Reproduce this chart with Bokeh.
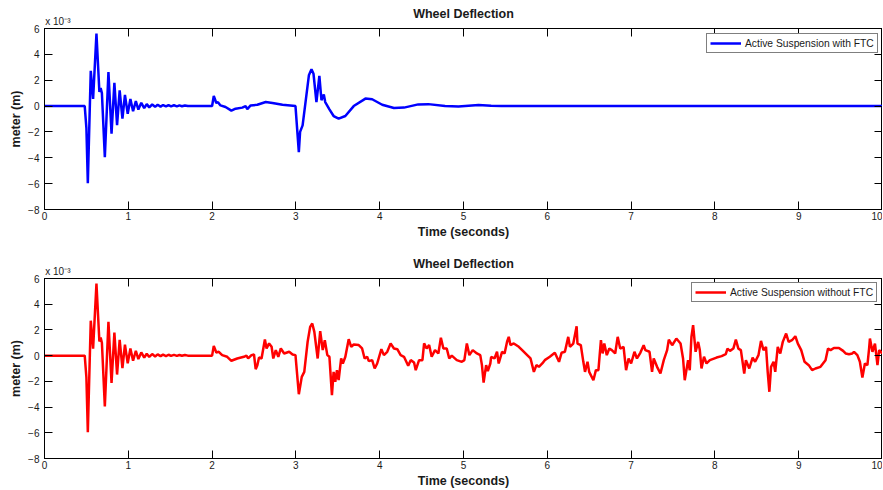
from bokeh.plotting import figure
from bokeh.models import FixedTicker, LinearAxis, Legend, LegendItem, Range1d
from bokeh.layouts import column
from bokeh.embed import file_html
from bokeh.resources import INLINE

# ---------------- data (values in units of 1e-3 m) ----------------
x_ticks = [0, 1, 2, 3, 4, 5, 6, 7, 8, 9, 10]
y_ticks = [-8, -6, -4, -2, 0, 2, 4, 6]
exponent_text = "x 10\u207b\u00b3"

# initial transient (0 - 2 s), common to both responses
t_initial = [0.0, 0.48, 0.50, 0.517, 0.552, 0.58, 0.62, 0.655, 0.67, 0.685, 0.72,
             0.763, 0.80, 0.834, 0.866, 0.897, 0.93, 0.96, 0.993, 1.025, 1.057,
             1.09, 1.12, 1.155, 1.19, 1.22, 1.25, 1.285, 1.32, 1.35, 1.385, 1.415,
             1.45, 1.48, 1.51, 1.545, 1.58, 1.61, 1.64, 1.675, 1.71]
v_initial = [0.0, 0.0, -1.7, -5.96, 2.72, 0.55, 5.6, 1.1, 1.4, 1.0, -3.95,
             2.64, -2.13, 1.79, -1.47, 1.22, -0.97, 0.86, -0.6, 0.55, -0.4,
             0.38, -0.27, 0.25, -0.16, 0.15, -0.1, 0.12, -0.06, 0.1, -0.04, 0.08,
             -0.03, 0.07, -0.02, 0.06, -0.02, 0.05, -0.01, 0.05, 0.0]

# with FTC (2 - 10 s)
t_ftc = [2.0, 2.02, 2.05, 2.07, 2.1, 2.16, 2.23, 2.28, 2.36, 2.40, 2.42, 2.46, 2.54,
         2.64, 2.72, 2.84, 2.995, 3.035, 3.05, 3.08, 3.115, 3.155, 3.186, 3.21,
         3.245, 3.28, 3.305, 3.333, 3.35, 3.40, 3.45, 3.51, 3.59, 3.69, 3.83, 3.91,
         4.03, 4.17, 4.29, 4.46, 4.58, 4.78, 4.94, 5.18, 5.33, 5.45, 10.0]
v_ftc = [0.0, 0.78, 0.24, 0.3, 0.05, -0.07, -0.35, -0.2, -0.12, 0.0, -0.23, 0.05, 0.1,
         0.31, 0.24, 0.1, 0.0, -3.56, -2.0, -1.49, 0.31, 2.38, 2.85, 2.5,
         0.31, 2.33, 0.45, 0.89, 0.31, -0.25, -0.77, -0.97, -0.77, 0.0, 0.58, 0.53,
         0.1, -0.15, -0.12, 0.13, 0.15, 0.0, -0.03, 0.08, 0.03, 0.0, 0.0]

# without FTC (2 - 10 s)
t_noftc = [2.0, 2.02, 2.05, 2.08, 2.12, 2.18, 2.23, 2.30, 2.38, 2.41, 2.43, 2.47, 2.50,
           2.52, 2.54, 2.56, 2.59, 2.63, 2.65, 2.68, 2.71, 2.73, 2.76, 2.79, 2.82,
           2.86, 2.92, 2.96, 2.995, 3.035, 3.07, 3.10, 3.14, 3.17, 3.195, 3.22, 3.26,
           3.29, 3.32, 3.345, 3.375, 3.40, 3.43, 3.45, 3.47, 3.49, 3.51, 3.54, 3.56,
           3.59, 3.63, 3.66, 3.69, 3.75, 3.79, 3.82, 3.85, 3.87, 3.91, 3.94, 3.97,
           4.02, 4.05, 4.09, 4.13, 4.17, 4.21, 4.25, 4.29, 4.34, 4.37, 4.41, 4.43,
           4.47, 4.51, 4.53, 4.56, 4.59, 4.62, 4.66, 4.70, 4.73, 4.76, 4.80, 4.83,
           4.86, 4.92, 4.98, 5.01, 5.04, 5.07, 5.11, 5.16, 5.20, 5.22, 5.24, 5.27,
           5.29, 5.32, 5.33, 5.37, 5.40, 5.42, 5.46, 5.49, 5.52, 5.54, 5.56, 5.60,
           5.66, 5.70, 5.76, 5.80, 5.84, 5.87, 5.90, 5.94, 5.97,
           6.03, 6.09, 6.14, 6.17, 6.21, 6.25, 6.27, 6.31, 6.35, 6.36, 6.40, 6.43,
           6.45, 6.48, 6.50, 6.55, 6.58, 6.61, 6.64, 6.66, 6.68, 6.71, 6.74, 6.77,
           6.81, 6.84, 6.87, 6.91, 6.94, 6.97, 7.00, 7.04, 7.07, 7.11, 7.15, 7.17,
           7.22, 7.25, 7.27, 7.31, 7.35, 7.39, 7.43, 7.45, 7.49, 7.54, 7.59, 7.62,
           7.64, 7.68, 7.70, 7.72, 7.74, 7.77, 7.80, 7.82, 7.84, 7.87, 7.90, 7.94,
           8.02, 8.08, 8.13, 8.15, 8.18, 8.22, 8.25, 8.28, 8.31, 8.35, 8.37, 8.41,
           8.45, 8.48, 8.52, 8.55, 8.58, 8.61, 8.63, 8.65, 8.67, 8.70, 8.72, 8.75,
           8.78, 8.81, 8.85, 8.88, 8.92, 8.96, 8.99, 9.03, 9.07, 9.12, 9.16, 9.20,
           9.26, 9.32, 9.35, 9.38, 9.42, 9.48, 9.53, 9.56, 9.60, 9.64, 9.66, 9.70,
           9.73, 9.76, 9.79, 9.82, 9.84, 9.85, 9.88, 9.91, 9.94, 9.96, 9.99, 10.0]
v_noftc = [0.0, 0.76, 0.25, 0.3, 0.04, -0.09, -0.4, -0.22, -0.09, 0.0, -0.22, 0.04, 0.09,
           -1.05, -0.74, -0.14, -0.22, 1.26, 0.56, 0.95, 0.69, -0.22, 0.43, -0.09, 0.56,
           0.17, 0.3, 0.09, 0.04, -3.0, -1.65, -1.26, 1.08, 2.24, 2.5, 1.85, -0.22,
           1.9, 0.43, 1.2, 0.04, -0.09, -3.07, -1.26, -2.03, -1.13, -1.9, -0.22, -0.61,
           -0.09, 1.28, 0.69, 0.87, 0.82, 0.56, -0.22, -0.09, -0.43, -0.35, -1.0, -0.61,
           0.5, 0.04, 0.3, 0.95, 0.56, 0.5, 0.04, -0.09, -0.79, -0.35, -0.53, -1.13,
           -0.35, -0.35, 0.95, 0.56, 0.82, -0.09, 0.43, 0.17, 1.39, 0.56, 0.56, -0.22,
           0.0, -0.35, -0.48, -0.35, 0.95, 0.04, 0.43, 0.17, 0.04, -0.74, -2.09, -0.74,
           -1.2, -0.61, -0.09, -0.22, 0.3, -0.61, 0.3, 0.17, 1.08, 1.46, 0.82, 0.95,
           0.69, 0.43, 0.04, -0.22, -1.26, -0.74, -0.87, -0.61, -0.35,
           -0.09, 0.22, -0.48, 0.22, 0.3, 1.46, 0.68, 0.94, 2.29, 0.94, 0.81, -0.48,
           -1.26, -0.48, -1.26, -1.91, -1.13, -1.13, 1.2, 0.17, 0.94, 0.04, 0.55, 0.43,
           0.17, 1.46, 0.55, 0.68, -1.13, -0.22, -0.61, 0.3, -0.22, 0.22, 0.81, 0.43,
           0.3, -1.26, -0.22, -0.87, -1.39, -0.35, 0.43, 1.25, 0.81, 1.33, 0.94, -0.22,
           -1.91, -0.35, -1.13, 1.46, 2.37, 0.3, 1.07, 0.43, -1.0, -0.09, -0.61, -0.35,
           -0.15, -0.04, 0.11, 0.55, 0.37, 0.55, 1.25, 0.55, 0.43, -1.39, -0.35, -1.0,
           -0.15, -0.48, 0.04, 1.15, 0.43, 0.68, -1.26, -2.81, -0.87, -0.48, -1.26, 0.68,
           0.17, 1.07, 1.72, 1.07, 1.2, 1.51, 0.94, 0.43, -0.48, -0.74, -1.13, -1.0,
           -0.87, -0.35, 0.55, 0.43, 0.6, 0.6, 0.37, 0.17, 0.11, 0.17, 0.3, 0.04,
           -0.48, -1.7, -0.61, -0.74, 0.55, 1.33, 0.3, 0.94, -0.74, 0.43, 0.22, 0.2]

title_text = "Wheel Deflection"
x_label = "Time (seconds)"
y_label = "meter (m)"
legend_ftc = "Active Suspension with FTC"
legend_noftc = "Active Suspension without FTC"

FONT = "Liberation Sans"
TXT = "#1a1a1a"
EXPO_POS = 0.16  # where the centred scale-factor text sits along the top edge


def make_fig(t, v, color, legend_label, top_border, bottom_border, frame_h, legend_loc):
    p = figure(output_backend="svg", toolbar_location=None,
               frame_width=838, frame_height=frame_h,
               x_range=Range1d(0, 10), y_range=Range1d(-8, 6),
               min_border_left=44, min_border_right=0,
               min_border_top=top_border, min_border_bottom=bottom_border,
               title=title_text)
    p.title.text_font = FONT
    p.title.text_font_size = "12.5px"
    p.title.text_font_style = "bold"
    p.title.align = "center"
    p.title.text_color = TXT
    try:
        p.title.standoff = -16
    except Exception:
        p.title.standoff = 0
    p.grid.visible = False
    p.outline_line_color = "black"
    p.outline_line_alpha = 1.0
    p.outline_line_width = 1
    p.background_fill_color = "white"
    p.border_fill_color = "white"

    xa = p.xaxis[0]
    xa.ticker = FixedTicker(ticks=x_ticks)
    ya = p.yaxis[0]
    ya.ticker = FixedTicker(ticks=y_ticks)
    xa.axis_label = x_label
    ya.axis_label = y_label
    for ax in (xa, ya):
        ax.major_tick_in = 8
        ax.major_tick_out = 0
        ax.minor_tick_line_color = None
        ax.axis_line_color = "black"
        ax.major_tick_line_color = "black"
        ax.major_label_text_font = FONT
        ax.major_label_text_font_size = "10px"
        ax.major_label_text_color = TXT
        ax.axis_label_text_font = FONT
        ax.axis_label_text_font_size = "12.5px"
        ax.axis_label_text_font_style = "bold"
        ax.axis_label_text_color = TXT
    xa.major_label_standoff = 2
    xa.axis_label_standoff = 2
    ya.major_label_standoff = 5
    ya.axis_label_standoff = 2

    # mirrored ticks on top and right (no labels)
    top = LinearAxis(ticker=FixedTicker(ticks=x_ticks), major_tick_in=8, major_tick_out=0,
                     minor_tick_line_color=None, major_label_text_font_size="0px",
                     major_label_text_color=None, major_label_standoff=0,
                     axis_line_color="black")
    right = LinearAxis(ticker=FixedTicker(ticks=y_ticks), major_tick_in=8, major_tick_out=0,
                       minor_tick_line_color=None, major_label_text_font_size="0px",
                       major_label_text_color=None, major_label_standoff=0,
                       axis_line_color="black")
    p.add_layout(top, "above")
    p.add_layout(right, "right")

    # scale factor "x 10^-3" above the top-left corner
    expo = LinearAxis(ticker=FixedTicker(ticks=[EXPO_POS]), major_tick_in=0, major_tick_out=0,
                      minor_tick_line_color=None, major_tick_line_color=None,
                      axis_line_color=None, major_label_overrides={EXPO_POS: exponent_text},
                      major_label_text_font=FONT,
                      major_label_text_font_size="10px", major_label_text_color=TXT,
                      major_label_standoff=2)
    p.add_layout(expo, "above")

    r = p.line(t, v, line_color=color, line_width=2.5)

    legend = Legend(items=[LegendItem(label=legend_label, renderers=[r])],
                    location=legend_loc)
    legend.border_line_color = "black"
    legend.border_line_width = 1
    legend.background_fill_color = "white"
    legend.background_fill_alpha = 1.0
    legend.label_text_font = FONT
    legend.label_text_font_size = "10.3px"
    legend.label_text_color = TXT
    legend.glyph_width = 31
    legend.glyph_height = 12
    legend.label_height = 12
    legend.padding = 3
    legend.margin = 0
    legend.spacing = 0
    legend.label_standoff = 4
    p.add_layout(legend)
    return p


t_with = t_initial + t_ftc
v_with = v_initial + v_ftc
t_without = t_initial + t_noftc
v_without = v_initial + v_noftc

p1 = make_fig(t_with, v_with, "#0000FF", legend_ftc, 28, 34, 181, (662, 156))
p2 = make_fig(t_without, v_without, "#FF0000", legend_noftc, 35, 32, 180, (647, 156))

layout = column(p1, p2, spacing=0)
open("out.html", "w").write(file_html(layout, INLINE))
